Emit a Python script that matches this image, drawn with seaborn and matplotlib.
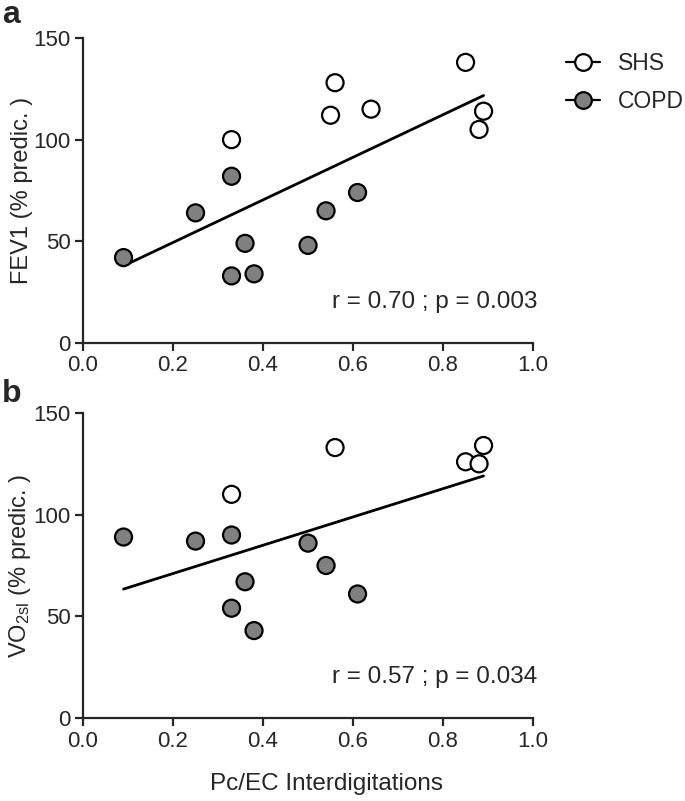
import matplotlib
matplotlib.use("Agg")
import matplotlib.pyplot as plt
from matplotlib.lines import Line2D
import pandas as pd
import seaborn as sns

# values
groups = ["SHS", "COPD"]

# panel a: FEV1 vs Pc/EC
fev_shs_x = [0.33, 0.56, 0.55, 0.64, 0.85, 0.89, 0.88]
fev_shs_y = [100, 128, 112, 115, 138, 114, 105]
fev_copd_x = [0.09, 0.25, 0.33, 0.36, 0.33, 0.38, 0.50, 0.54, 0.61]
fev_copd_y = [42, 64, 82, 49, 33, 34, 48, 65, 74]

# panel b: VO2sl vs Pc/EC
vo2_shs_x = [0.33, 0.56, 0.85, 0.88, 0.89]
vo2_shs_y = [110, 133, 126, 125, 134]
vo2_copd_x = [0.09, 0.25, 0.33, 0.36, 0.33, 0.38, 0.50, 0.54, 0.61]
vo2_copd_y = [89, 87, 90, 67, 54, 43, 86, 75, 61]

r_texts = ["r = 0.70 ; p = 0.003", "r = 0.57 ; p = 0.034"]
x_ticks = [0.0, 0.2, 0.4, 0.6, 0.8, 1.0]
y_ticks = [0, 50, 100, 150]

sns.set_style("ticks")
plt.rcParams["font.family"] = ["Liberation Sans", "DejaVu Sans"]
plt.rcParams["mathtext.fontset"] = "custom"
plt.rcParams["mathtext.rm"] = "Liberation Sans"
plt.rcParams["mathtext.it"] = "Liberation Sans:italic"

palette = {"SHS": "white", "COPD": "#808080"}


def make_df(sx, sy, cx, cy):
    return pd.DataFrame({
        "x": sx + cx,
        "y": sy + cy,
        "group": ["SHS"] * len(sx) + ["COPD"] * len(cx),
    })


df_a = make_df(fev_shs_x, fev_shs_y, fev_copd_x, fev_copd_y)
df_b = make_df(vo2_shs_x, vo2_shs_y, vo2_copd_x, vo2_copd_y)

fig = plt.figure(figsize=(6.85, 8.01), dpi=100)
ax_a = fig.add_axes([0.1212, 0.5718, 0.657, 0.3808])
ax_b = fig.add_axes([0.1212, 0.1036, 0.657, 0.3808])

for ax, df, ylab, rt in [
    (ax_a, df_a, "FEV1 (% predic. )", r_texts[0]),
    (ax_b, df_b, r"VO$_{\mathregular{2sl}}$ (% predic. )", r_texts[1]),
]:
    sns.regplot(data=df, x="x", y="y", scatter=False, ci=None, truncate=True,
                line_kws={"color": "black", "lw": 2}, ax=ax)
    sns.scatterplot(data=df, x="x", y="y", hue="group", palette=palette,
                    hue_order=groups, s=150, edgecolor="black", linewidth=1.6,
                    legend=False, zorder=3, ax=ax)
    ax.set_xlim(0, 1.0)
    ax.set_ylim(0, 150)
    ax.set_xticks(x_ticks)
    ax.set_xticklabels([f"{t:.1f}" for t in x_ticks])
    ax.set_yticks(y_ticks)
    ax.set_ylabel(ylab, fontsize=17)
    ax.yaxis.set_label_coords(-0.112, 0.5)
    ax.set_xlabel("")
    ax.text(1.01, 0.135, rt, transform=ax.transAxes, ha="right", va="center",
            fontsize=17.5)
    for s in ["left", "bottom"]:
        ax.spines[s].set_linewidth(1.6)
    sns.despine(ax=ax)
    ax.tick_params(labelsize=16, width=1.6, length=6, pad=3, direction="out")
    for sp in ax.spines.values():
        sp.set_clip_on(False)

ax_b.set_xlabel("Pc/EC Interdigitations", fontsize=17.5)
ax_b.xaxis.set_label_coords(0.54, -0.18)

fig.text(0.003, 1 - 23 / 801, "a", fontsize=23, fontweight="bold", va="baseline")
fig.text(0.003, 1 - 402 / 801, "b", fontsize=23, fontweight="bold", va="baseline")

handles = [
    Line2D([], [], color="black", lw=1.6, marker="o", markersize=12,
           markerfacecolor=palette[g], markeredgecolor="black",
           markeredgewidth=1.6)
    for g in groups
]
fig.legend(handles, groups, loc="upper left", bbox_to_anchor=(0.826, 0.9345),
           frameon=False, fontsize=16.5, handlelength=1.48, handletextpad=0.8,
           labelspacing=0.62, borderpad=0, borderaxespad=0)

fig.savefig("out.png", dpi=100)
